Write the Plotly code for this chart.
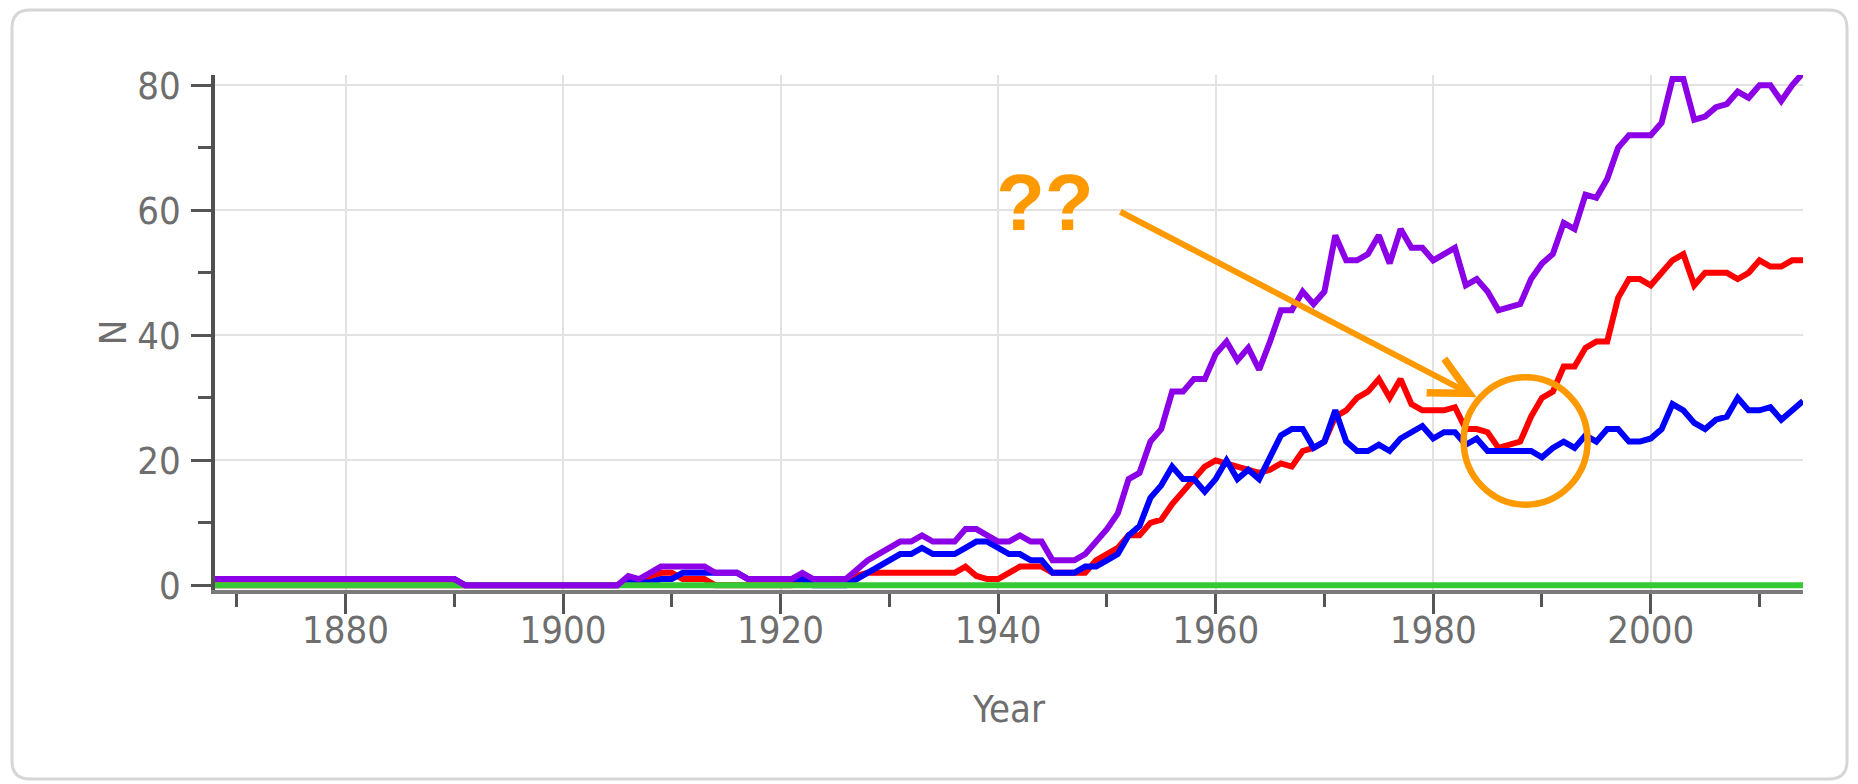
import plotly.graph_objects as go

# ---------------- data ----------------
YEARS = list(range(1868, 2015))

PURPLE = [
    1, 1, 1, 1, 1, 1, 1, 1, 1, 1,            # 1868-1877
    1, 1, 1, 1, 1, 1, 1, 1, 1, 1,            # 1878-1887
    1, 1, 1, 0, 0, 0, 0, 0, 0, 0,            # 1888-1897
    0, 0, 0, 0, 0, 0, 0, 0, 1.5, 1,          # 1898-1907
    2, 3, 3, 3, 3, 3, 2, 2, 2, 1,            # 1908-1917
    1, 1, 1, 1, 2, 1, 1, 1, 1, 2.5,          # 1918-1927
    4, 5, 6, 7, 7, 8, 7, 7, 7, 9,            # 1928-1937
    9, 8, 7, 7, 8, 7, 7, 4, 4, 4,            # 1938-1947
    5, 7, 9, 11.5, 17, 18, 23, 25, 31, 31,   # 1948-1957
    33, 33, 37, 39, 36, 38, 34.5, 39, 44, 44,  # 1958-1967
    47, 45, 47, 56, 52, 52, 53, 56, 51.5, 57,  # 1968-1977
    54, 54, 52, 53, 54, 48, 49, 47, 44, 44.5,  # 1978-1987
    45, 49, 51.5, 53, 58, 57, 62.5, 62, 65, 70,  # 1988-1997
    72, 72, 72, 74, 81, 81, 74.5, 75, 76.5, 77,  # 1998-2007
    79, 78, 80, 80, 77.5, 80, 82,            # 2008-2014
]

RED = [
    0, 0, 0, 0, 0, 0, 0, 0, 0, 0,            # 1868-1877
    0, 0, 0, 0, 0, 0, 0, 0, 0, 0,            # 1878-1887
    0, 0, 0, 0, 0, 0, 0, 0, 0, 0,            # 1888-1897
    0, 0, 0, 0, 0, 0, 0, 0, 0.5, 0.5,        # 1898-1907
    1.5, 2, 2, 1, 1, 1, 0, 0, 0, 0,          # 1908-1917
    0, 0, 0, 0, 1, 1, 1, 1, 1, 1.5,          # 1918-1927
    2, 2, 2, 2, 2, 2, 2, 2, 2, 3,            # 1928-1937
    1.5, 1, 1, 2, 3, 3, 3, 2, 2, 2,          # 1938-1947
    2, 4, 5, 6, 8, 8, 10, 10.5, 13, 15,      # 1948-1957
    17, 19, 20, 19.5, 19, 18.5, 18, 18.5, 19.5, 19,  # 1958-1967
    21.5, 22, 23, 27, 28, 30, 31, 33, 30, 33,  # 1968-1977
    29, 28, 28, 28, 28.5, 25, 25, 24.5, 22, 22.5,  # 1978-1987
    23, 27, 30, 31, 35, 35, 38, 39, 39, 46,  # 1988-1997
    49, 49, 48, 50, 52, 53, 48, 50, 50, 50,  # 1998-2007
    49, 50, 52, 51, 51, 52, 52,              # 2008-2014
]

BLUE = [
    1, 1, 1, 1, 1, 1, 1, 1, 1, 1,            # 1868-1877
    1, 1, 1, 1, 1, 1, 1, 1, 1, 1,            # 1878-1887
    1, 1, 1, 0, 0, 0, 0, 0, 0, 0,            # 1888-1897
    0, 0, 0, 0, 0, 0, 0, 0, 1, 0.5,          # 1898-1907
    0.5, 1, 1, 2, 2, 2, 2, 2, 2, 1,          # 1908-1917
    1, 1, 1, 1, 1, 0, 0, 0, 0, 1,            # 1918-1927
    2, 3, 4, 5, 5, 6, 5, 5, 5, 6,            # 1928-1937
    7, 7, 6, 5, 5, 4, 4, 2, 2, 2,            # 1938-1947
    3, 3, 4, 5, 8, 9.5, 14, 16, 19, 17,      # 1948-1957
    17, 15, 17, 20, 17, 18.5, 17, 20.5, 24, 25,  # 1958-1967
    25, 22, 23, 28, 23, 21.5, 21.5, 22.5, 21.5, 23.5,  # 1968-1977
    24.5, 25.5, 23.5, 24.5, 24.5, 22.5, 23.5, 21.5, 21.5, 21.5,  # 1978-1987
    21.5, 21.5, 20.5, 22, 23, 22, 24, 23, 25, 25,  # 1988-1997
    23, 23, 23.5, 25, 29, 28, 26, 25, 26.5, 27,  # 1998-2007
    30, 28, 28, 28.5, 26.5, 28, 29.5,        # 2008-2014
]

GREEN = [
    0, 0, 0, 0, 0, 0, 0, 0, 0, 0,            # 1868-1877
    0, 0, 0, 0, 0, 0, 0, 0, 0, 0,            # 1878-1887
    0, 0, 0, 0, 0, 0, 0, 0, 0, 0,            # 1888-1897
    0, 0, 0, 0, 0, 0, 0, 0, 0, 0,            # 1898-1907
    0, 0, 0, 0, 0, 0, 0, 0, 0, 0,            # 1908-1917
    0, 0, 0, 0, 0, 0, 0, 0, 0, 0,            # 1918-1927
    0, 0, 0, 0, 0, 0, 0, 0, 0, 0,            # 1928-1937
    0, 0, 0, 0, 0, 0, 0, 0, 0, 0,            # 1938-1947
    0, 0, 0, 0, 0, 0, 0, 0, 0, 0,            # 1948-1957
    0, 0, 0, 0, 0, 0, 0, 0, 0, 0,            # 1958-1967
    0, 0, 0, 0, 0, 0, 0, 0, 0, 0,            # 1968-1977
    0, 0, 0, 0, 0, 0, 0, 0, 0, 0,            # 1978-1987
    0, 0, 0, 0, 0, 0, 0, 0, 0, 0,            # 1988-1997
    0, 0, 0, 0, 0, 0, 0, 0, 0, 0,            # 1998-2007
    0, 0, 0, 0, 0, 0, 0,                     # 2008-2014
]

X_TICKS = [1880, 1900, 1920, 1940, 1960, 1980, 2000]
Y_TICKS = [0, 20, 40, 60, 80]

ANNOT_TEXT = "??"
X_TITLE = "Year"
Y_TITLE = "N"

# ---------------- figure ----------------
W, H = 1858, 784
L, R, T, B = 215, 1803, 75, 590  # plot-area pixel box

FONT = "DejaVu Sans Condensed, DejaVu Sans"

fig = go.Figure()
series = [
    ("red", RED, "#FF0000", 6),
    ("blue", BLUE, "#0000FF", 6),
    ("green", GREEN, "#35C935", 6),
    ("purple", PURPLE, "#8B00E6", 6),
]
for name, vals, col, w in series:
    fig.add_trace(go.Scatter(x=YEARS, y=vals, mode="lines", name=name,
                             line=dict(color=col, width=w, shape="linear"),
                             hoverinfo="x+y"))


def px_to_paper(px, py):
    return (px - L) / (R - L), (B - py) / (B - T)


# rounded card border around the chart
x0, y0 = px_to_paper(12, 10)
x1, y1 = px_to_paper(1847, 779)
rx = 18 / (R - L)
ry = 18 / (B - T)
path = (f"M {x0+rx},{y0} L {x1-rx},{y0} Q {x1},{y0} {x1},{y0-ry} "
        f"L {x1},{y1+ry} Q {x1},{y1} {x1-rx},{y1} "
        f"L {x0+rx},{y1} Q {x0},{y1} {x0},{y1+ry} "
        f"L {x0},{y0-ry} Q {x0},{y0} {x0+rx},{y0} Z")
fig.add_shape(type="path", path=path, xref="paper", yref="paper",
              line=dict(color="#d6d6d6", width=3), layer="below")

# orange circle
fig.add_shape(type="circle", xref="x", yref="y", x0=1982.8, x1=1994.2,
              y0=12.9, y1=33.3, line=dict(color="#FF9900", width=6.5))

# "??" text
fig.add_annotation(x=1944.3, y=61.3, xref="x", yref="y", text=f"<b>{ANNOT_TEXT}</b>",
                   showarrow=False, xanchor="center", yanchor="middle",
                   font=dict(family="Liberation Sans", size=80, color="#FF9900"))
# arrow
fig.add_annotation(x=1984.0, y=30.1, ax=1951.1, ay=59.9, xref="x", yref="y",
                   axref="x", ayref="y", text="", showarrow=True,
                   arrowhead=5, arrowsize=1.25, arrowwidth=6, arrowcolor="#FF9900")

tick_font = dict(family=FONT, size=38, color="#6e6e6e")
title_font = dict(family=FONT, size=38, color="#6e6e6e")

fig.update_layout(
    width=W, height=H,
    margin=dict(l=L, r=W - R, t=T, b=H - B, pad=0),
    paper_bgcolor="white", plot_bgcolor="white",
    showlegend=False,
    font=dict(family=FONT, color="#6e6e6e"),
    xaxis=dict(
        range=[1868, 2014], tickmode="array", tickvals=X_TICKS,
        ticktext=[str(v) for v in X_TICKS],
        showgrid=True, gridcolor="#e2e2e2", gridwidth=1.5,
        showline=True, linecolor="#7a7a7a", linewidth=4,
        ticks="outside", ticklen=20, tickwidth=2.5, tickcolor="#555555",
        minor=dict(dtick=10, tick0=1870, ticks="outside", ticklen=13,
                   tickwidth=2.5, tickcolor="#555555", showgrid=False),
        tickfont=tick_font, ticklabelstandoff=-17,
        zeroline=False, automargin=False,
        title=dict(text=X_TITLE, font=title_font, standoff=46),
    ),
    yaxis=dict(
        range=[-0.74, 81.65], tickmode="array", tickvals=Y_TICKS,
        ticktext=[str(v) for v in Y_TICKS],
        showgrid=True, gridcolor="#e2e2e2", gridwidth=2,
        showline=True, linecolor="#505050", linewidth=3.5,
        ticks="outside", ticklen=20, tickwidth=2.5, tickcolor="#555555",
        minor=dict(dtick=10, tick0=0, ticks="outside", ticklen=13,
                   tickwidth=2.5, tickcolor="#555555", showgrid=False),
        tickfont=tick_font, ticklabelstandoff=3,
        zeroline=False, automargin=False,
        title=dict(text=Y_TITLE, font=title_font, standoff=0),
    ),
)

fig.write_html("out.html", config={"displayModeBar": False},
               post_script="document.body.style.margin='0px';document.body.style.overflow='hidden';")
